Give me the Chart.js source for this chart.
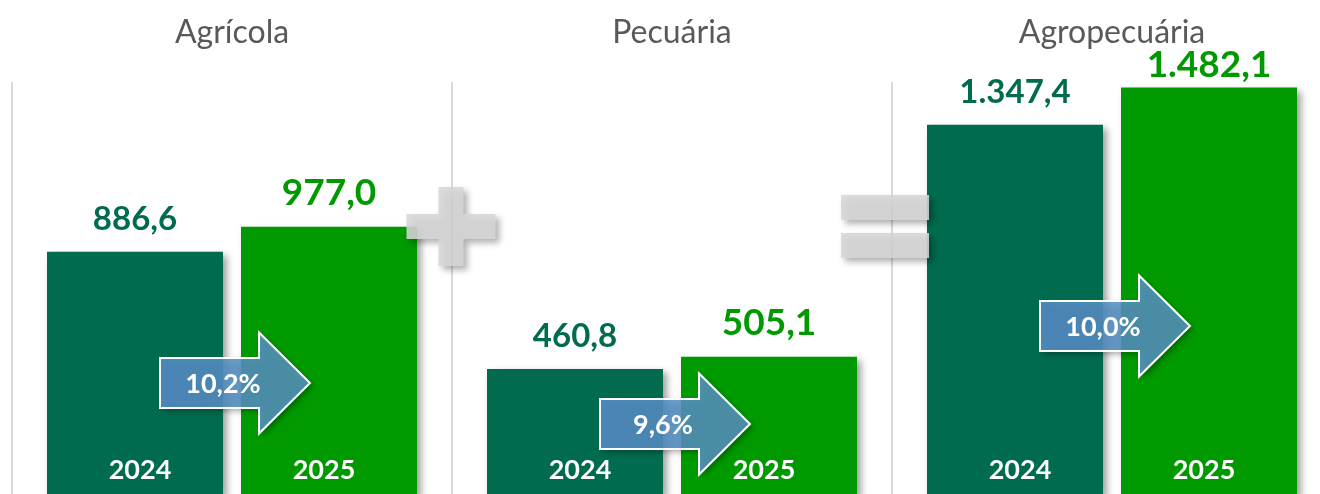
<!DOCTYPE html>
<html lang="pt">
<head>
<meta charset="utf-8">
<title>Agrícola + Pecuária = Agropecuária</title>
<script src="https://cdn.jsdelivr.net/npm/chart.js@4.4.1/dist/chart.umd.min.js"></script>
<style>
  html, body { margin: 0; padding: 0; background: #fff; overflow: hidden; }
  #wrap { position: absolute; left: 0; top: 0; width: 1340px; height: 494px; }
</style>
</head>
<body>
<div id="wrap"><canvas id="chart" width="1340" height="494"></canvas></div>
<script>
const categories = ["Agrícola", "Pecuária", "Agropecuária"];
const years = ["2024", "2025"];
const values2024 = [886.6, 460.8, 1347.4];
const values2025 = [977.0, 505.1, 1482.1];
const operators = ["+", "="];

const colors = ["#006b4e", "#009a00"];

// 1234.5 -> "1.234,5"
function fmt(v) {
  const [int, dec] = v.toFixed(1).split(".");
  return int.replace(/\B(?=(\d{3})+(?!\d))/g, ".") + "," + dec;
}
function growth(a, b) {
  return ((b / a - 1) * 100).toFixed(1).replace(".", ",") + "%";
}

function arrowPath(ctx, x0, tip, cy) {
  const bodyH = 50, headH = 101, headL = 51;
  const hb = tip - headL;
  ctx.beginPath();
  ctx.moveTo(x0, cy - bodyH / 2);
  ctx.lineTo(hb, cy - bodyH / 2);
  ctx.lineTo(hb, cy - headH / 2);
  ctx.lineTo(tip, cy);
  ctx.lineTo(hb, cy + headH / 2);
  ctx.lineTo(hb, cy + bodyH / 2);
  ctx.lineTo(x0, cy + bodyH / 2);
  ctx.closePath();
}

function operatorPath(ctx, op, cx, cy) {
  ctx.beginPath();
  if (op === "+") {
    // single outline so the shadow is not doubled
    const a = 44.5, t = 12.5, b = 39.5;
    ctx.moveTo(cx - t, cy - b);
    ctx.lineTo(cx + t, cy - b);
    ctx.lineTo(cx + t, cy - t);
    ctx.lineTo(cx + a, cy - t);
    ctx.lineTo(cx + a, cy + t);
    ctx.lineTo(cx + t, cy + t);
    ctx.lineTo(cx + t, cy + b);
    ctx.lineTo(cx - t, cy + b);
    ctx.lineTo(cx - t, cy + t);
    ctx.lineTo(cx - a, cy + t);
    ctx.lineTo(cx - a, cy - t);
    ctx.lineTo(cx - t, cy - t);
    ctx.closePath();
  } else {
    ctx.rect(cx - 44, cy - 31.5, 88, 25);
    ctx.rect(cx - 44, cy + 6.5, 88, 25);
  }
}

const decorations = {
  id: "decorations",
  beforeDatasetsDraw(chart) {
    const { ctx, chartArea, scales: { x } } = chart;
    ctx.save();
    ctx.strokeStyle = "#d9d9d9";
    ctx.lineWidth = 2;
    categories.forEach((c, i) => {
      const left = x.getPixelForValue(i) - x.width / categories.length / 2;
      ctx.beginPath();
      ctx.moveTo(left, 82);
      ctx.lineTo(left, chartArea.bottom);
      ctx.stroke();
    });
    ctx.restore();
    // bar shadow
    ctx.save();
    ctx.shadowColor = "rgba(0,0,0,0.38)";
    ctx.shadowBlur = 7;
    ctx.shadowOffsetX = 4;
    ctx.shadowOffsetY = 3;
  },
  afterDatasetsDraw(chart, args, opts) {
    const { ctx, chartArea, scales: { x } } = chart;
    ctx.restore();
    const m0 = chart.getDatasetMeta(0).data;
    const m1 = chart.getDatasetMeta(1).data;

    // operators between panels
    operators.forEach((op, i) => {
      const bound = (x.getPixelForValue(i) + x.getPixelForValue(i + 1)) / 2;
      const cx = op === "+" ? bound - 1 : bound - 7;
      ctx.save();
      ctx.shadowColor = "rgba(0,0,0,0.35)";
      ctx.shadowBlur = 6;
      ctx.shadowOffsetX = 4;
      ctx.shadowOffsetY = 4;
      ctx.fillStyle = "rgba(214,214,214,0.88)";
      operatorPath(ctx, op, cx, 226.5);
      ctx.fill();
      ctx.restore();
    });

    // titles
    ctx.save();
    ctx.fillStyle = "#595959";
    ctx.font = "32px Lato";
    ctx.textAlign = "center";
    ctx.textBaseline = "alphabetic";
    categories.forEach((c, i) => ctx.fillText(c, x.getPixelForValue(i), 43));
    ctx.restore();

    // value labels + year labels
    ctx.save();
    ctx.textAlign = "center";
    ctx.textBaseline = "alphabetic";
    [m0, m1].forEach((bars, d) => {
      const vals = d === 0 ? values2024 : values2025;
      bars.forEach((bar, i) => {
        ctx.fillStyle = colors[d];
        ctx.font = d === 0 ? "bold 33px Lato" : "bold 37px Lato";
        const yb = Math.max(bar.y - 22, 77);
        ctx.fillText(fmt(vals[i]), bar.x, yb);
        ctx.fillStyle = "#ffffff";
        ctx.font = "bold 27px Lato";
        ctx.fillText(years[d], bar.x + (d === 0 ? 5 : -5), chartArea.bottom - 15);
      });
    });
    ctx.restore();

    // growth arrows
    categories.forEach((c, i) => {
      const b0 = m0[i], b1 = m1[i];
      const x0 = b0.x + 25;
      const tip = b1.x - b1.width / 2 + 69;
      const cy = opts.arrowY[i];
      ctx.save();
      ctx.shadowColor = "rgba(0,0,0,0.4)";
      ctx.shadowBlur = 6;
      ctx.shadowOffsetX = 3;
      ctx.shadowOffsetY = 3;
      const g = ctx.createLinearGradient(x0, 0, tip, 0);
      g.addColorStop(0, "rgba(86,142,204,0.86)");
      g.addColorStop(1, "rgba(86,148,188,0.86)");
      ctx.fillStyle = g;
      arrowPath(ctx, x0, tip, cy);
      ctx.fill();
      ctx.shadowColor = "transparent";
      ctx.strokeStyle = "#ffffff";
      ctx.lineWidth = 2;
      ctx.lineJoin = "miter";
      ctx.stroke();
      ctx.fillStyle = "#ffffff";
      ctx.font = "bold 27px Lato";
      ctx.textAlign = "center";
      ctx.textBaseline = "middle";
      ctx.fillText(growth(values2024[i], values2025[i]), x0 + (tip - x0) * 0.42, cy + 1);
      ctx.restore();
    });
  }
};

new Chart(document.getElementById("chart").getContext("2d"), {
  type: "bar",
  data: {
    labels: categories,
    datasets: [
      { label: years[0], data: values2024, backgroundColor: colors[0],
        categoryPercentage: 0.8818, barPercentage: 0.9072 },
      { label: years[1], data: values2025, backgroundColor: colors[1],
        categoryPercentage: 0.8818, barPercentage: 0.9072 }
    ]
  },
  options: {
    responsive: false,
    animation: false,
    events: [],
    layout: { padding: { left: 12, right: 8, top: 0, bottom: 0 } },
    plugins: {
      legend: { display: false },
      tooltip: { enabled: false },
      decorations: { arrowY: [383, 424, 326] }
    },
    scales: {
      x: { display: false },
      y: { display: false, min: 7, max: 1800 }
    }
  },
  plugins: [decorations]
});
</script>
</body>
</html>
